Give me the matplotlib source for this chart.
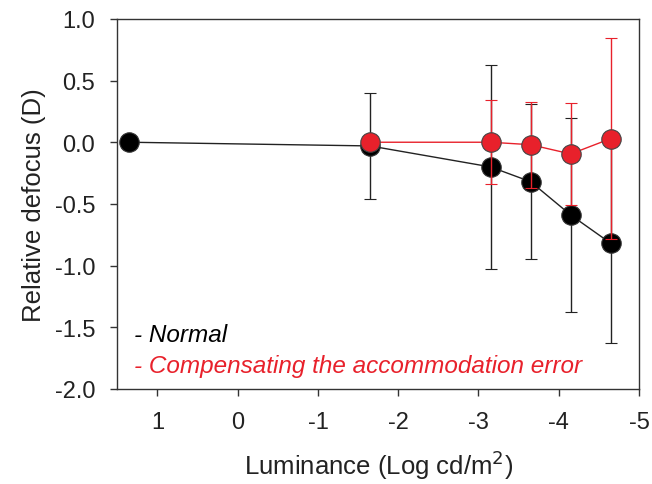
import matplotlib
matplotlib.use('Agg')
import matplotlib.pyplot as plt

plt.rcParams['font.family'] = ['Liberation Sans', 'DejaVu Sans']

# luminance (log cd/m2)
lum_normal = [1.35, -1.65, -3.15, -3.65, -4.15, -4.65]
defocus_normal = [0.0, -0.03, -0.20, -0.32, -0.59, -0.82]
sd_normal = [0.0, 0.43, 0.83, 0.63, 0.79, 0.81]

lum_comp = [-1.65, -3.15, -3.65, -4.15, -4.65]
defocus_comp = [0.0, 0.0, -0.02, -0.095, 0.03]
sd_comp = [0.0, 0.34, 0.35, 0.41, 0.815]

x_ticks = [1, 0, -1, -2, -3, -4, -5]
y_ticks = [1.0, 0.5, 0.0, -0.5, -1.0, -1.5, -2.0]

red = '#e8212b'
dark = '#222222'

fig = plt.figure(figsize=(6.52, 4.85), dpi=100)
ax = fig.add_axes([0.180, 0.196, 0.800, 0.763])

ax.errorbar(lum_normal, defocus_normal, yerr=sd_normal, color=dark, lw=1.0,
            elinewidth=1.0, capsize=4, capthick=1.0, marker='o', ms=14,
            mfc='black', mec='#333333', mew=0.8, zorder=3)
ax.errorbar(lum_comp, defocus_comp, yerr=sd_comp, color=red, lw=1.0,
            elinewidth=1.0, capsize=4, capthick=1.0, marker='o', ms=14,
            mfc=red, mec='#444444', mew=0.8, zorder=4)

ax.set_xlim(1.5, -5)
ax.set_ylim(-2.0, 1.0)
ax.set_xticks(x_ticks)
ax.set_xticklabels([str(t) for t in x_ticks])
ax.set_yticks(y_ticks)
ax.set_yticklabels(['%.1f' % t for t in y_ticks])
ax.tick_params(direction='out', length=5, width=1, colors='#333333',
               labelsize=17, labelcolor='#222222', pad=11)
for s in ax.spines.values():
    s.set_color('#333333')
    s.set_linewidth(1)

ax.set_xlabel('Luminance (Log cd/m$^2$)', fontsize=18.5, color='#222222', labelpad=10)
ax.set_ylabel('Relative defocus (D)', fontsize=18.5, color='#222222', labelpad=6)

ax.text(0.031, 0.130, '- Normal', transform=ax.transAxes, fontsize=17.5,
        style='italic', color='black', va='baseline')
ax.text(0.031, 0.046, '- Compensating the accommodation error', transform=ax.transAxes,
        fontsize=17.5, style='italic', color=red, va='baseline')

fig.savefig('out.png', dpi=100)
